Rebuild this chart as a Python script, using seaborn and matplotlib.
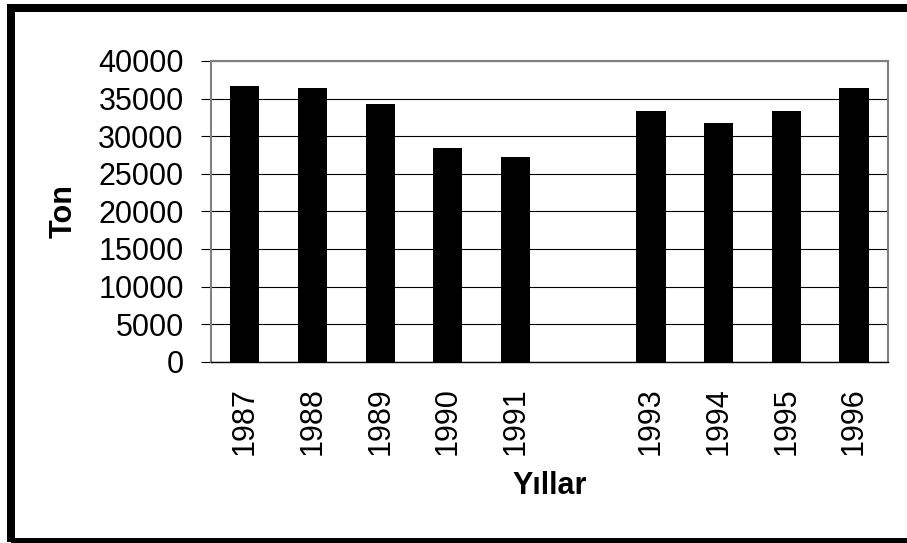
import numpy as np
import pandas as pd
import matplotlib
matplotlib.use("Agg")
import matplotlib.pyplot as plt
from matplotlib.patches import Rectangle
import seaborn as sns

# Annual production (tonnes); no figure for 1992
years = ["1987", "1988", "1989", "1990", "1991", "1992", "1993", "1994", "1995", "1996"]
year_labels = ["1987", "1988", "1989", "1990", "1991", "", "1993", "1994", "1995", "1996"]
tons = [36650, 36450, 34250, 28450, 27250, np.nan, 33350, 31750, 33300, 36350]
y_ticks = [0, 5000, 10000, 15000, 20000, 25000, 30000, 35000, 40000]

sns.set_style("white")
plt.rcParams["font.family"] = ["Liberation Sans", "DejaVu Sans"]
plt.rcParams.update({"text.color": "black", "axes.labelcolor": "black",
                     "xtick.color": "black", "ytick.color": "black"})

df = pd.DataFrame({"Yıl": years, "Ton": tons})

W, H = 907, 543
fig = plt.figure(figsize=(W / 100, H / 100), dpi=100)
ax = fig.add_axes([211 / W, 1 - 361.7 / H, 676.7 / W, 300.7 / H])

sns.barplot(data=df, x="Yıl", y="Ton", order=years, color="black",
            saturation=1, width=0.433, linewidth=0, errorbar=None, ax=ax)

ax.set_xlim(-0.5, len(years) - 0.5)
ax.set_ylim(0, 40000)
ax.set_yticks(y_ticks)
ax.set_yticklabels([str(v) for v in y_ticks], fontsize=22, color="black")
ax.set_xticks(range(len(years)))
ax.set_xticklabels(year_labels, rotation=90, fontsize=22, color="black")
ax.set_xticks(np.arange(-0.5, len(years), 1.0), minor=True)

ax.tick_params(axis="x", which="major", length=0, pad=18.5)
ax.tick_params(axis="x", which="minor", length=7.2, width=0.8, color="black", direction="out")
ax.tick_params(axis="y", which="major", length=7.2, width=0.8, color="black",
               direction="out", pad=12.5, left=True)

ax.set_axisbelow(True)
ax.yaxis.grid(True, color="black", linewidth=0.8)
ax.xaxis.grid(False)

for side in ["left", "top", "right"]:
    ax.spines[side].set_visible(True)
    ax.spines[side].set_color("#808080")
    ax.spines[side].set_linewidth(1.5)
ax.spines["bottom"].set_color("black")
ax.spines["bottom"].set_linewidth(1.0)

ax.set_ylabel("Ton", fontsize=22, fontweight="bold", color="black")
ax.yaxis.set_label_coords((64 - 211) / 676.7, 0.5)
ax.yaxis.label.set_va("center")
ax.set_xlabel("Yıllar", fontsize=22, fontweight="bold", color="black")
ax.xaxis.set_label_coords(0.5, (361.7 - 486) / 300.7)
ax.xaxis.label.set_va("center")

# Heavy frame around the whole chart
fig.add_artist(Rectangle((11 / W, 1 - 542 / H), 900 / W, (542 - 8) / H,
                         transform=fig.transFigure, fill=False,
                         edgecolor="black", linewidth=5.76))

fig.savefig("out.png", dpi=100)
